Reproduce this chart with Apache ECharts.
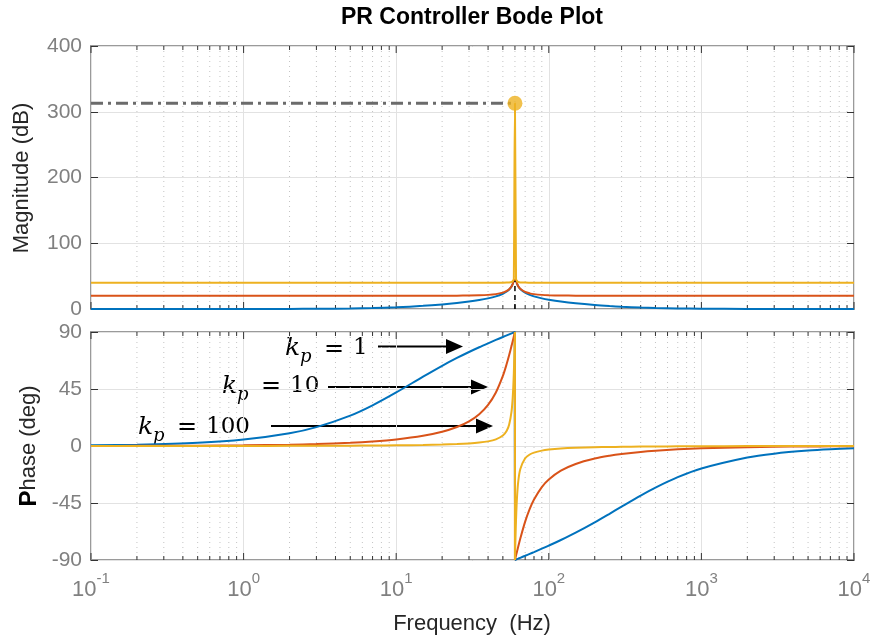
<!DOCTYPE html>
<html><head><meta charset="utf-8">
<script src="https://cdn.jsdelivr.net/npm/echarts@6/dist/echarts.min.js"></script>
<style>html,body{margin:0;padding:0;background:#fff}#c{width:875px;height:643px}</style>
</head><body><div id="c"></div>
<script>
// ---------- data ----------
const magFreqs = [0.1,0.2,0.5,1,2,3,5,7,10,15,20,25,30,35,40,45,50,53,55,57,58,58.5,59,61,61.5,62,63,65,70,75,80,90,100,120,150,200,250,300,400,500,700,1000,2000,3000,5000,7000,10000];
const magKp1 = [0.00,0.00,0.01,0.03,0.13,0.30,0.79,1.44,2.62,4.77,6.95,9.11,11.31,13.62,16.18,19.23,23.23,26.59,29.68,34.27,37.87,40.40,43.96,44.11,40.62,38.16,34.71,30.40,24.70,21.46,19.23,16.18,14.11,11.31,8.68,6.08,4.51,3.47,2.21,1.51,0.83,0.42,0.11,0.05,0.02,0.01,0.00];
const magKp10 = [20.00,20.00,20.00,20.00,20.00,20.00,20.01,20.02,20.04,20.09,20.17,20.30,20.51,20.86,21.48,22.62,24.91,27.44,30.12,34.43,37.94,40.44,43.98,44.12,40.66,38.22,34.85,30.78,25.95,23.78,22.62,21.48,20.96,20.51,20.27,20.13,20.08,20.05,20.03,20.02,20.01,20.00,20.00,20.00,20.00,20.00,20.00];
const magKp100 = [40.00,40.00,40.00,40.00,40.00,40.00,40.00,40.00,40.00,40.00,40.00,40.00,40.01,40.01,40.02,40.04,40.09,40.19,40.39,41.03,42.07,43.22,45.43,45.53,43.33,42.19,41.12,40.45,40.13,40.06,40.04,40.02,40.01,40.01,40.00,40.00,40.00,40.00,40.00,40.00,40.00,40.00,40.00,40.00,40.00,40.00,40.00];
const peakFreq = 60;
const peakMag = 313;
const cuspMag = 43;

const phaseFreqs = [0.1,0.2,0.5,1,2,3,5,7,10,15,20,25,30,35,40,45,50,53,55,57,58,58.5,59,59.5,59.8,59.95,60,60,60.05,60.2,60.5,61,61.5,62,63,65,70,75,80,90,100,120,150,200,250,300,400,500,700,1000,2000,3000,5000,7000,10000];
const phaseKp1 = [0.51,1.01,2.53,5.05,10.04,14.89,24.00,32.11,42.29,54.74,63.31,69.50,74.21,77.97,81.07,83.73,86.05,87.32,88.12,88.89,89.27,89.45,89.64,89.82,89.93,89.98,90,-90,-89.98,-89.93,-89.82,-89.64,-89.47,-89.29,-88.95,-88.27,-86.66,-85.15,-83.73,-81.07,-78.63,-74.21,-68.41,-60.24,-53.50,-47.86,-39.15,-32.86,-24.61,-17.72,-9.05,-6.06,-3.64,-2.60,-1.82];
const phaseKp10 = [0.05,0.10,0.25,0.51,1.01,1.52,2.55,3.59,5.20,8.05,11.25,14.98,19.48,25.13,32.48,42.29,55.35,64.88,71.82,79.05,82.72,84.55,86.37,88.19,89.28,89.82,90,-90,-89.82,-89.28,-88.21,-86.43,-84.68,-82.95,-79.57,-73.19,-59.74,-49.69,-42.29,-32.48,-26.44,-19.48,-14.18,-9.92,-7.69,-6.31,-4.65,-3.70,-2.62,-1.83,-0.91,-0.61,-0.36,-0.26,-0.18];
const phaseKp100 = [0.01,0.01,0.03,0.05,0.10,0.15,0.26,0.36,0.52,0.81,1.14,1.53,2.03,2.69,3.64,5.20,8.23,12.04,16.93,27.34,38.03,46.33,57.64,72.49,82.83,88.20,90,-90,-88.20,-82.85,-72.63,-58.07,-47.05,-38.97,-28.52,-18.32,-9.73,-6.72,-5.20,-3.64,-2.85,-2.03,-1.45,-1.00,-0.77,-0.63,-0.47,-0.37,-0.26,-0.18,-0.09,-0.06,-0.04,-0.03,-0.02];

const decades = [0.1, 1, 10, 100, 1000];
const lastDecade = 10000;
const minorMults = [2,3,4,5,6,7,8,9];
const labels = ['1', '10', '100'];
const titleText = 'PR Controller Bode Plot';
const xName = 'Frequency  (Hz)';
const magName = 'Magnitude (dB)';

// ---------- styling ----------
const C = ['#0072BD', '#D95319', '#EDB120'];
const SANS = '"Liberation Sans", Arial, sans-serif';
const SERIF = '"DejaVu Serif", "Liberation Serif", serif';
const tickLabelColor = '#808080';

const pair = (xs, ys) => xs.map((x, i) => [x, ys[i]]);
const yellowMag = pair(magFreqs, magKp100);
const pIdx = magFreqs.findIndex(f => f > peakFreq);
yellowMag.splice(pIdx, 0, [peakFreq, peakMag]);

const tickData0 = [], tickData1 = [];
decades.forEach(d => {
  tickData0.push([d, 1, 0]); tickData1.push([d, 1, -90]);
  minorMults.forEach(m => { tickData0.push([d * m, 0, 0]); tickData1.push([d * m, 0, -90]); });
});
tickData0.push([lastDecade, 1, 0]); tickData1.push([lastDecade, 1, -90]);

function tickRender(params, api) {
  const f = api.value(0), major = api.value(1) === 1;
  const cs = params.coordSys;
  const x = api.coord([f, api.value(2)])[0];
  const top = cs.y, bot = cs.y + cs.height;
  const ch = [];
  if (!major) ch.push({type: 'line', shape: {x1: x, y1: top, x2: x, y2: bot}, style: {stroke: '#c4c4c4', lineWidth: 1, lineDash: [1, 4]}});
  const len = major ? 7 : 4;
  ch.push({type: 'line', shape: {x1: x, y1: top, x2: x, y2: top + len}, style: {stroke: '#333', lineWidth: 1}});
  ch.push({type: 'line', shape: {x1: x, y1: bot, x2: x, y2: bot - len}, style: {stroke: '#333', lineWidth: 1}});
  return {type: 'group', children: ch};
}

const G0 = {left: 91, top: 46, width: 763, height: 263};
const G1 = {left: 91, top: 332, width: 763, height: 228};

function xAx(gi, showLabels) {
  return {
    type: 'log', logBase: 10, gridIndex: gi, min: 0.1, max: 10000, splitNumber: 5,
    axisLine: {show: false}, axisTick: {show: false},
    splitLine: {show: true, lineStyle: {color: '#e2e2e2', width: 1}},
    minorTick: {show: false}, minorSplitLine: {show: false},
    axisLabel: showLabels ? {
      show: true, margin: 19, showMinLabel: true, showMaxLabel: true, hideOverlap: false,
      formatter: v => '{b|10}{s|' + Math.round(Math.log10(v)) + '}',
      rich: {
        b: {fontSize: 22, lineHeight: 22, color: tickLabelColor, fontFamily: SANS, verticalAlign: 'bottom'},
        s: {fontSize: 15, lineHeight: 15, color: tickLabelColor, fontFamily: SANS, verticalAlign: 'bottom', padding: [0, 0, 15, 0]}
      }
    } : {show: false}
  };
}
function yAx(gi, min, max, interval, pos, showLabels) {
  return {
    type: 'value', gridIndex: gi, min, max, interval, position: pos,
    axisLine: {show: false},
    axisTick: {show: true, inside: true, length: 7, lineStyle: {color: '#333'}},
    splitLine: {show: pos === 'left', lineStyle: {color: '#e2e2e2'}},
    axisLabel: showLabels ? {show: true, margin: 9, color: tickLabelColor, fontSize: 21, fontFamily: SANS} : {show: false}
  };
}

const lineS = (name, xi, yi, data, color, z) => ({
  name, type: 'line', xAxisIndex: xi, yAxisIndex: yi, data, showSymbol: false, symbol: 'none',
  smooth: 0.3,
  lineStyle: {color, width: 2}, itemStyle: {color}, z, animation: false
});

// annotations (pixel placements of text labels and arrows)
const ann = [
  {kx: 285, base: 356.5, ay: 346.5, ax1: 378, ax2: 463},
  {kx: 222, base: 394, ay: 387, ax1: 328, ax2: 488},
  {kx: 138, base: 435, ay: 426, ax1: 271, ax2: 493}
];
const graphics = [];
ann.forEach((a, i) => {
  graphics.push({type: 'text', x: a.kx, y: a.base - 8, style: {text: 'k', font: 'italic 25px ' + SERIF, fill: '#000', align: 'left', verticalAlign: 'middle'}});
  graphics.push({type: 'text', x: a.kx + 15, y: a.base + 1, style: {text: 'p', font: 'italic 18px ' + SERIF, fill: '#000', align: 'left', verticalAlign: 'middle'}});
  graphics.push({type: 'text', x: a.kx + 39, y: a.base - 7, style: {text: '=', font: '24px ' + SERIF, fill: '#000', align: 'left', verticalAlign: 'middle'}});
  graphics.push({type: 'text', x: a.kx + 68, y: a.base - 8, style: {text: labels[i], font: '23px ' + SERIF, fill: '#000', align: 'left', verticalAlign: 'middle'}});
  graphics.push({type: 'line', shape: {x1: a.ax1, y1: a.ay, x2: a.ax2 - 14, y2: a.ay}, style: {stroke: '#000', lineWidth: 2}});
  graphics.push({type: 'polygon', shape: {points: [[a.ax2, a.ay], [a.ax2 - 17, a.ay - 7.5], [a.ax2 - 17, a.ay + 7.5]]}, style: {fill: '#000'}});
});
graphics.push({type: 'text', x: 472, y: 18, style: {text: titleText, font: 'bold 23px ' + SANS, fill: '#000', align: 'center', verticalAlign: 'middle'}});
graphics.push({type: 'text', x: 472, y: 624, style: {text: xName, font: '22px ' + SANS, fill: '#262626', align: 'center', verticalAlign: 'middle'}});
graphics.push({type: 'text', x: 22, y: 178, rotation: Math.PI / 2, style: {text: magName, font: '22px ' + SANS, fill: '#262626', align: 'center', verticalAlign: 'middle'}});
graphics.push({type: 'text', x: 29, y: 446, rotation: Math.PI / 2, style: {
  text: '{p|P}{r|hase (deg)}', align: 'center', verticalAlign: 'middle',
  rich: {p: {fontSize: 24, fontWeight: 'bold', fontFamily: SANS, fill: '#000'}, r: {fontSize: 22, fontFamily: SANS, fill: '#262626'}}
}});

const chart = echarts.init(document.getElementById('c'), null, {renderer: 'canvas'});
chart.setOption({
  animation: false,
  backgroundColor: '#fff',
  grid: [
    Object.assign({show: true, borderColor: '#9a9a9a', borderWidth: 2, backgroundColor: '#fff'}, G0),
    Object.assign({show: true, borderColor: '#9a9a9a', borderWidth: 2, backgroundColor: '#fff'}, G1)
  ],
  xAxis: [xAx(0, false), xAx(1, true)],
  yAxis: [
    yAx(0, 0, 400, 100, 'left', true), yAx(0, 0, 400, 100, 'right', false),
    yAx(1, -90, 90, 45, 'left', true), yAx(1, -90, 90, 45, 'right', false)
  ],
  series: [
    {type: 'custom', xAxisIndex: 0, yAxisIndex: 0, data: tickData0, renderItem: tickRender, z: 1, silent: true},
    {type: 'custom', xAxisIndex: 1, yAxisIndex: 2, data: tickData1, renderItem: tickRender, z: 1, silent: true},
    lineS('kp1', 0, 0, pair(magFreqs, magKp1), C[0], 3),
    lineS('kp10', 0, 0, pair(magFreqs, magKp10), C[1], 4),
    lineS('kp100', 0, 0, yellowMag, C[2], 5),
    {type: 'line', xAxisIndex: 0, yAxisIndex: 0, data: [[peakFreq, 0], [peakFreq, cuspMag]], symbol: 'none',
      lineStyle: {color: '#000', width: 1.5, type: [5, 4]}, z: 6},
    {type: 'line', xAxisIndex: 0, yAxisIndex: 0, data: [[0.1, peakMag], [peakFreq, peakMag]], symbol: 'none',
      lineStyle: {color: '#6b6b6b', width: 3, type: [12, 5, 3, 5]}, z: 6},
    {type: 'scatter', xAxisIndex: 0, yAxisIndex: 0, data: [[peakFreq, peakMag]], symbol: 'circle', symbolSize: 15,
      itemStyle: {color: '#EDB120'}, z: 7},
    lineS('p1', 1, 2, pair(phaseFreqs, phaseKp1), C[0], 3),
    lineS('p10', 1, 2, pair(phaseFreqs, phaseKp10), C[1], 4),
    lineS('p100', 1, 2, pair(phaseFreqs, phaseKp100), C[2], 5)
  ],
  graphic: graphics
});
</script></body></html>
